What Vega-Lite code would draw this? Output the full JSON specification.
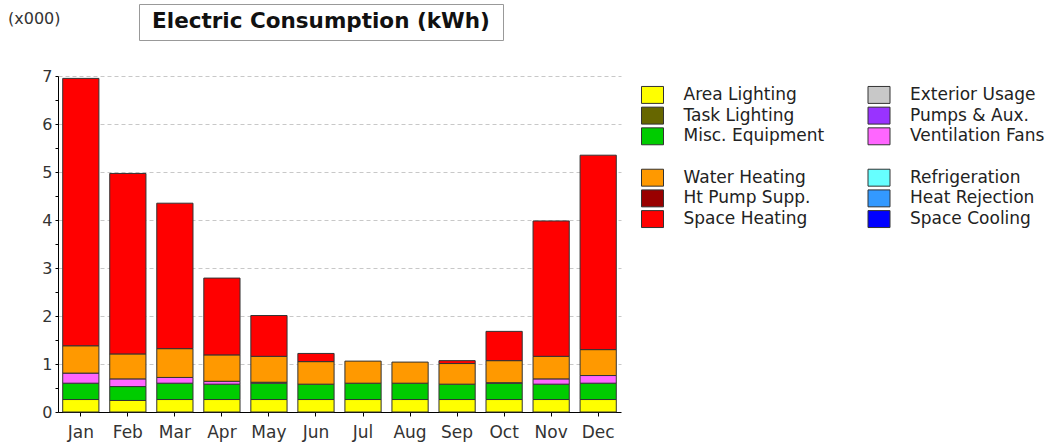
{
  "$schema": "https://vega.github.io/schema/vega-lite/v6.json",
  "padding": {"left": 8, "top": 3, "right": 15, "bottom": 33},
  "bounds": "flush",
  "spacing": 72,
  "config": {
    "font": "DejaVu Sans",
    "view": {"stroke": null}
  },
  "vconcat": [
    {
      "spacing": 0,
      "bounds": "flush",
      "hconcat": [
        {
          "width": 81,
          "height": 36,
          "data": {"values": [{"t": "(x000)"}]},
          "mark": {"type": "text", "align": "left", "baseline": "middle", "dx": -90.5, "dy": -3, "fontSize": 16, "color": "#333"},
          "encoding": {"text": {"field": "t"}}
        },
        {
          "width": 364,
          "height": 36,
          "view": {"stroke": "#999", "strokeWidth": 1},
          "data": {"values": [{"t": "Electric Consumption (kWh)"}]},
          "mark": {"type": "text", "align": "center", "baseline": "middle", "fontSize": 21.5, "fontWeight": "bold", "color": "#111"},
          "encoding": {"text": {"field": "t"}}
        }
      ]
    },
    {
      "spacing": 20.5,
      "bounds": "flush",
      "hconcat": [
        {
          "width": 563,
          "height": 336,
          "data": {
            "values": [
              {"month": "Jan", "category": "Area Lighting", "kwh": 0.26},
              {"month": "Jan", "category": "Misc. Equipment", "kwh": 0.34},
              {"month": "Jan", "category": "Ventilation Fans", "kwh": 0.21},
              {"month": "Jan", "category": "Water Heating", "kwh": 0.57},
              {"month": "Jan", "category": "Space Heating", "kwh": 5.57},
              {"month": "Feb", "category": "Area Lighting", "kwh": 0.24},
              {"month": "Feb", "category": "Misc. Equipment", "kwh": 0.29},
              {"month": "Feb", "category": "Ventilation Fans", "kwh": 0.16},
              {"month": "Feb", "category": "Water Heating", "kwh": 0.52},
              {"month": "Feb", "category": "Space Heating", "kwh": 3.76},
              {"month": "Mar", "category": "Area Lighting", "kwh": 0.26},
              {"month": "Mar", "category": "Misc. Equipment", "kwh": 0.34},
              {"month": "Mar", "category": "Ventilation Fans", "kwh": 0.12},
              {"month": "Mar", "category": "Water Heating", "kwh": 0.60},
              {"month": "Mar", "category": "Space Heating", "kwh": 3.03},
              {"month": "Apr", "category": "Area Lighting", "kwh": 0.26},
              {"month": "Apr", "category": "Misc. Equipment", "kwh": 0.32},
              {"month": "Apr", "category": "Ventilation Fans", "kwh": 0.06},
              {"month": "Apr", "category": "Water Heating", "kwh": 0.55},
              {"month": "Apr", "category": "Space Heating", "kwh": 1.60},
              {"month": "May", "category": "Area Lighting", "kwh": 0.26},
              {"month": "May", "category": "Misc. Equipment", "kwh": 0.34},
              {"month": "May", "category": "Ventilation Fans", "kwh": 0.02},
              {"month": "May", "category": "Water Heating", "kwh": 0.54},
              {"month": "May", "category": "Space Heating", "kwh": 0.85},
              {"month": "Jun", "category": "Area Lighting", "kwh": 0.26},
              {"month": "Jun", "category": "Misc. Equipment", "kwh": 0.32},
              {"month": "Jun", "category": "Water Heating", "kwh": 0.47},
              {"month": "Jun", "category": "Space Heating", "kwh": 0.17},
              {"month": "Jul", "category": "Area Lighting", "kwh": 0.26},
              {"month": "Jul", "category": "Misc. Equipment", "kwh": 0.34},
              {"month": "Jul", "category": "Water Heating", "kwh": 0.46},
              {"month": "Aug", "category": "Area Lighting", "kwh": 0.26},
              {"month": "Aug", "category": "Misc. Equipment", "kwh": 0.34},
              {"month": "Aug", "category": "Water Heating", "kwh": 0.44},
              {"month": "Sep", "category": "Area Lighting", "kwh": 0.26},
              {"month": "Sep", "category": "Misc. Equipment", "kwh": 0.32},
              {"month": "Sep", "category": "Water Heating", "kwh": 0.43},
              {"month": "Sep", "category": "Space Heating", "kwh": 0.06},
              {"month": "Oct", "category": "Area Lighting", "kwh": 0.26},
              {"month": "Oct", "category": "Misc. Equipment", "kwh": 0.34},
              {"month": "Oct", "category": "Ventilation Fans", "kwh": 0.01},
              {"month": "Oct", "category": "Water Heating", "kwh": 0.46},
              {"month": "Oct", "category": "Space Heating", "kwh": 0.61},
              {"month": "Nov", "category": "Area Lighting", "kwh": 0.26},
              {"month": "Nov", "category": "Misc. Equipment", "kwh": 0.32},
              {"month": "Nov", "category": "Ventilation Fans", "kwh": 0.11},
              {"month": "Nov", "category": "Water Heating", "kwh": 0.47},
              {"month": "Nov", "category": "Space Heating", "kwh": 2.82},
              {"month": "Dec", "category": "Area Lighting", "kwh": 0.26},
              {"month": "Dec", "category": "Misc. Equipment", "kwh": 0.34},
              {"month": "Dec", "category": "Ventilation Fans", "kwh": 0.16},
              {"month": "Dec", "category": "Water Heating", "kwh": 0.54},
              {"month": "Dec", "category": "Space Heating", "kwh": 4.05}
            ]
          },
          "transform": [
            {"calculate": "indexof(['Area Lighting','Task Lighting','Misc. Equipment','Exterior Usage','Pumps & Aux.','Ventilation Fans','Water Heating','Ht Pump Supp.','Space Heating','Refrigeration','Heat Rejection','Space Cooling'], datum.category)", "as": "k"}
          ],
          "mark": {"type": "bar", "stroke": "#333", "strokeWidth": 1},
          "encoding": {
            "x": {
              "field": "month", "type": "ordinal",
              "sort": ["Jan","Feb","Mar","Apr","May","Jun","Jul","Aug","Sep","Oct","Nov","Dec"],
              "scale": {"paddingInner": 0.23, "paddingOuter": 0.1},
              "axis": {"title": null, "labelAngle": 0, "domainColor": "#000", "tickColor": "#000", "tickSize": 4, "labelFontSize": 17, "labelColor": "#333", "labelPadding": 8, "grid": false}
            },
            "y": {
              "field": "kwh", "type": "quantitative", "stack": "zero",
              "scale": {"domain": [0, 7], "nice": false},
              "axis": {
                "title": null,
                "values": [0, 0.5, 1, 1.5, 2, 2.5, 3, 3.5, 4, 4.5, 5, 5.5, 6, 6.5, 7],
                "labelExpr": "datum.value % 1 === 0 ? format(datum.value, 'd') : ''",
                "grid": true,
                "gridDash": [4, 3],
                "gridColor": "#c8c8c8",
                "gridOpacity": {"condition": {"test": "datum.value % 1 === 0 && datum.value > 0", "value": 1}, "value": 0},
                "domainColor": "#000",
                "tickColor": "#000",
                "tickSize": 3,
                "labelFontSize": 16,
                "labelColor": "#333",
                "labelPadding": 3
              }
            },
            "color": {
              "field": "category", "type": "nominal", "legend": null,
              "scale": {
                "domain": ["Area Lighting","Task Lighting","Misc. Equipment","Exterior Usage","Pumps & Aux.","Ventilation Fans","Water Heating","Ht Pump Supp.","Space Heating","Refrigeration","Heat Rejection","Space Cooling"],
                "range": ["#ffff00","#666600","#00cc00","#c8c8c8","#9933ff","#ff66ff","#ff9900","#990000","#ff0000","#66ffff","#3399ff","#0000ff"]
              }
            },
            "order": {"field": "k", "type": "quantitative"}
          }
        },
        {
          "spacing": 204.5,
          "bounds": "flush",
          "hconcat": [
            {
              "width": 22,
              "height": 162,
              "data": {"values": [
                {"category": "Area Lighting"},
                {"category": "Task Lighting"},
                {"category": "Misc. Equipment"},
                {"category": "Water Heating"},
                {"category": "Ht Pump Supp."},
                {"category": "Space Heating"}
              ]},
              "encoding": {
                "y": {"field": "category", "type": "nominal", "axis": null,
                  "scale": {"type": "band", "domain": ["Area Lighting","Task Lighting","Misc. Equipment"," ","Water Heating","Ht Pump Supp.","Space Heating"], "paddingInner": 0, "paddingOuter": 0.415}}
              },
              "layer": [
                {
                  "mark": {"type": "point", "filled": true, "shape": "M-1,-0.77H1V0.77H-1Z", "size": 484, "stroke": "#333", "strokeWidth": 1, "opacity": 1},
                  "encoding": {"color": {"field": "category", "type": "nominal", "legend": null}}
                },
                {
                  "mark": {"type": "text", "align": "left", "baseline": "middle", "dx": 31, "fontSize": 17, "color": "#222"},
                  "encoding": {"text": {"field": "category"}}
                }
              ]
            },
            {
              "width": 22,
              "height": 162,
              "data": {"values": [
                {"category": "Exterior Usage"},
                {"category": "Pumps & Aux."},
                {"category": "Ventilation Fans"},
                {"category": "Refrigeration"},
                {"category": "Heat Rejection"},
                {"category": "Space Cooling"}
              ]},
              "encoding": {
                "y": {"field": "category", "type": "nominal", "axis": null,
                  "scale": {"type": "band", "domain": ["Exterior Usage","Pumps & Aux.","Ventilation Fans","  ","Refrigeration","Heat Rejection","Space Cooling"], "paddingInner": 0, "paddingOuter": 0.415}}
              },
              "layer": [
                {
                  "mark": {"type": "point", "filled": true, "shape": "M-1,-0.77H1V0.77H-1Z", "size": 484, "stroke": "#333", "strokeWidth": 1, "opacity": 1},
                  "encoding": {"color": {"field": "category", "type": "nominal", "legend": null}}
                },
                {
                  "mark": {"type": "text", "align": "left", "baseline": "middle", "dx": 31, "fontSize": 17, "color": "#222"},
                  "encoding": {"text": {"field": "category"}}
                }
              ]
            }
          ],
          "resolve": {"scale": {"y": "independent"}}
        }
      ]
    }
  ]
}
